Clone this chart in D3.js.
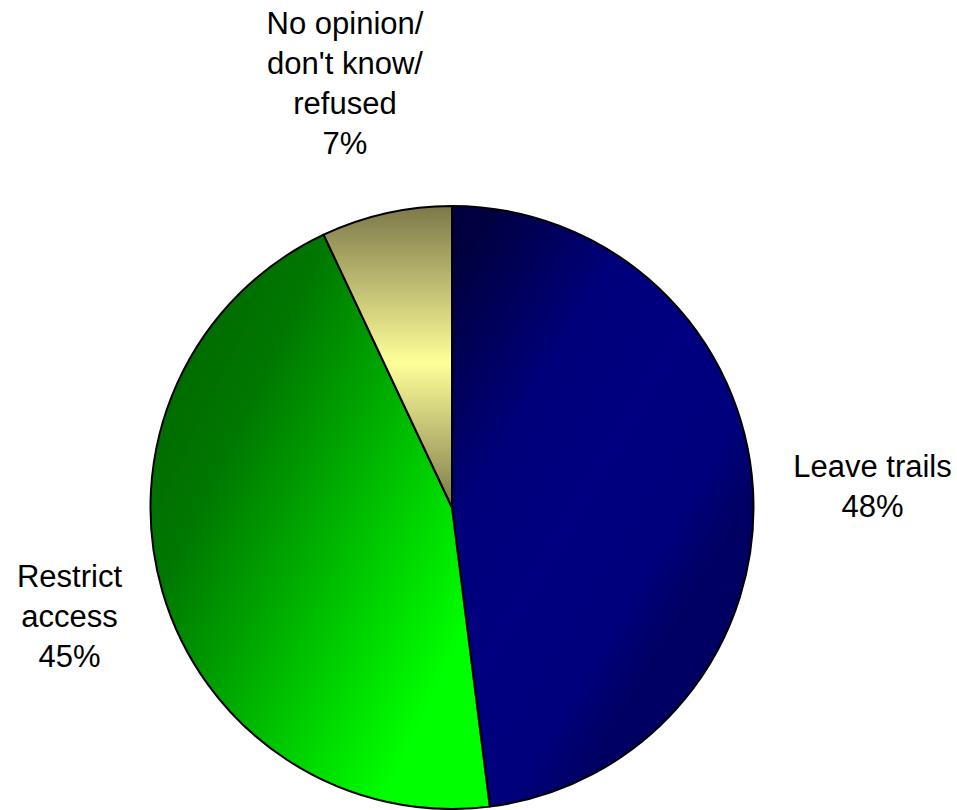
<!DOCTYPE html>
<html>
<head>
<meta charset="utf-8">
<script src="https://cdn.jsdelivr.net/npm/d3@7"></script>
<style>
  html, body { margin: 0; padding: 0; background: #ffffff; }
  svg { display: block; }
  text { font-family: "Liberation Sans", Arial, sans-serif; font-size: 31px; fill: #000; }
</style>
</head>
<body>
<div id="chart"></div>
<script>
// ---- data ----
const categories = ["Leave trails", "Restrict access", "No opinion/ don't know/ refused"];
const labelLines = [["Leave trails"], ["Restrict", "access"], ["No opinion/", "don't know/", "refused"]];
const values = [48, 45, 7];
const percentLabels = ["48%", "45%", "7%"];

// ---- layout ----
const W = 957, H = 810;
const cx = 452, cy = 507.5, R = 301.5;
const lineH = 39.7;
// label block centres (x, y of the block's visual middle)
const labelCentres = [[872.5, 486], [69.5, 616], [345, 83]];

const svg = d3.select("#chart").append("svg").attr("width", W).attr("height", H);
const defs = svg.append("defs");

// gradients (coordinates relative to pie centre)
const gBlue = defs.append("linearGradient").attr("id", "gBlue")
  .attr("gradientUnits", "userSpaceOnUse")
  .attr("x1", 0).attr("y1", -230).attr("x2", 320).attr("y2", -40);
[[0, "#000040"], [0.35, "#00007a"], [0.6, "#000080"], [0.85, "#00007c"], [1, "#000062"]].forEach(s =>
  gBlue.append("stop").attr("offset", s[0]).attr("stop-color", s[1]));

const gGreen = defs.append("linearGradient").attr("id", "gGreen")
  .attr("gradientUnits", "userSpaceOnUse")
  .attr("x1", -292).attr("y1", -87).attr("x2", 38).attr("y2", 72);
[[0, "#006c00"], [0.2, "#007800"], [0.45, "#00a000"], [0.75, "#00d400"], [1, "#00ff00"]].forEach(s =>
  gGreen.append("stop").attr("offset", s[0]).attr("stop-color", s[1]));

const gYellow = defs.append("linearGradient").attr("id", "gYellow")
  .attr("x1", 0).attr("y1", 0).attr("x2", 0).attr("y2", 1);
[[0, "#7c784a"], [0.52, "#ffff99"], [1, "#7c784a"]].forEach(s =>
  gYellow.append("stop").attr("offset", s[0]).attr("stop-color", s[1]));

const fills = ["url(#gBlue)", "url(#gGreen)", "url(#gYellow)"];

const pie = d3.pie().sort(null).value(d => d)(values);
const arc = d3.arc().innerRadius(0).outerRadius(R);

const g = svg.append("g").attr("transform", `translate(${cx},${cy})`);
g.selectAll("path.slice").data(pie).join("path")
  .attr("class", "slice")
  .attr("d", arc)
  .attr("fill", (d, i) => fills[i])
  .attr("stroke", "#000")
  .attr("stroke-width", 2)
  .attr("stroke-linejoin", "round");

// labels
pie.forEach((d, i) => {
  const lines = labelLines[i].concat([percentLabels[i]]);
  const [lx, ly] = labelCentres[i];
  const n = lines.length;
  const t = svg.append("text").attr("text-anchor", "middle");
  lines.forEach((ln, k) => {
    t.append("tspan")
      .attr("x", lx)
      .attr("y", ly + (k - (n - 1) / 2) * lineH + 11)
      .text(ln);
  });
});
</script>
</body>
</html>
